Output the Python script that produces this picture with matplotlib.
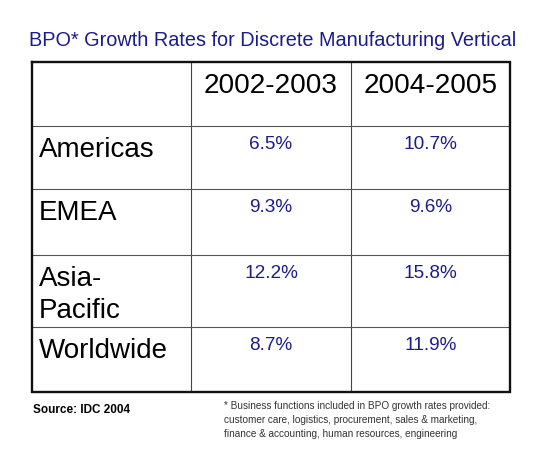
import matplotlib
matplotlib.use("Agg")
import matplotlib.pyplot as plt

# ---- data ----
title = "BPO* Growth Rates for Discrete Manufacturing Vertical"
periods = ["2002-2003", "2004-2005"]
regions = ["Americas", "EMEA", "Asia-\nPacific", "Worldwide"]
growth_2002_2003 = [6.5, 9.3, 12.2, 8.7]
growth_2004_2005 = [10.7, 9.6, 15.8, 11.9]
source_text = "Source: IDC 2004"
footnote_text = ("* Business functions included in BPO growth rates provided:\n"
                 "customer care, logistics, procurement, sales & marketing,\n"
                 "finance & accounting, human resources, engineering")

# ---- layout (pixels) ----
W, H = 550, 454
col_edges = [32, 191, 351, 510]
row_edges = [62, 126, 189, 255, 327, 392]
NAVY = "#1c1c8c"
FONT = "Liberation Sans"

fig = plt.figure(figsize=(W / 100, H / 100), dpi=100)
ax = fig.add_axes([0, 0, 1, 1])
ax.set_xlim(0, W)
ax.set_ylim(H, 0)
ax.axis("off")

# inner grid lines
for x in col_edges[1:-1]:
    ax.plot([x, x], [row_edges[0], row_edges[-1]], color="#444444", lw=0.8, solid_capstyle="butt")
for y in row_edges[1:-1]:
    ax.plot([col_edges[0], col_edges[-1]], [y, y], color="#555555", lw=0.8, solid_capstyle="butt")
# outer border
ax.plot([col_edges[0], col_edges[-1], col_edges[-1], col_edges[0], col_edges[0]],
        [row_edges[0], row_edges[0], row_edges[-1], row_edges[-1], row_edges[0]],
        color="#111111", lw=1.7, solid_joinstyle="miter")

# title
ax.text(273, 46, title, ha="center", va="baseline", color=NAVY,
        fontsize=14.3, family=FONT)

# header
for j, p in enumerate(periods):
    cx = (col_edges[j + 1] + col_edges[j + 2]) / 2
    ax.text(cx, row_edges[0] + 31, p, ha="center", va="baseline",
            fontsize=20.2, family=FONT, color="black")

# rows
cols = [growth_2002_2003, growth_2004_2005]
for i, r in enumerate(regions):
    top = row_edges[i + 1]
    ax.text(col_edges[0] + 7, top + 31, r.split("\n")[0], ha="left", va="baseline",
            fontsize=20, family=FONT, color="black")
    if "\n" in r:
        ax.text(col_edges[0] + 7, top + 63, r.split("\n")[1], ha="left", va="baseline",
                fontsize=20, family=FONT, color="black")
    for j, vals in enumerate(cols):
        cx = (col_edges[j + 1] + col_edges[j + 2]) / 2
        ax.text(cx, top + 23, f"{vals[i]:.1f}%", ha="center", va="baseline",
                fontsize=13.7, family=FONT, color=NAVY)

# footer
ax.text(33, 413, source_text, ha="left", va="baseline", fontsize=8.5,
        fontweight="bold", family=FONT, color="black")
ax.text(224, 401, footnote_text, ha="left", va="top", fontsize=7.2,
        family=FONT, color="#333333", linespacing=1.5)

fig.savefig("out.png", dpi=100)
